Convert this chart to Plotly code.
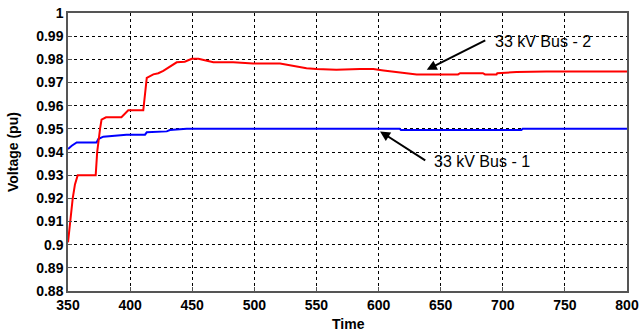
import plotly.graph_objects as go

# Bus-2 (red)
t_bus2 = [350, 351.6, 353.8, 355.6, 357.8, 372.3, 373.5, 375.8, 377, 380.6, 393, 398.5, 410.6, 412, 413.4,
          418.7, 422.7, 426.7, 432, 437.5, 444, 449.6, 455, 461.6, 467, 483, 499, 520.7, 526, 534, 542, 550,
          566, 585, 595.8, 604, 617, 630.7, 664, 665.6, 684, 685.7, 695, 695.6, 711, 735, 800]
v_bus2 = [0.901, 0.910, 0.920, 0.926, 0.930, 0.930, 0.940, 0.950, 0.954, 0.955, 0.955, 0.958, 0.958, 0.965, 0.972,
          0.9735, 0.974, 0.975, 0.977, 0.9787, 0.979, 0.9802, 0.9802, 0.9795, 0.9787, 0.9787, 0.9782, 0.9782, 0.9777,
          0.9767, 0.9762, 0.9758, 0.9755, 0.9758, 0.9758, 0.9752, 0.9745, 0.9735, 0.9735, 0.974, 0.974, 0.9735,
          0.9735, 0.974, 0.9745, 0.9748, 0.9748]

# Bus-1 (blue)
t_bus1 = [350, 353, 357, 373, 374.4, 378.4, 397, 412, 413.4, 429.5, 432, 445.6, 617, 618, 715, 716, 800]
v_bus1 = [0.9413, 0.9427, 0.9441, 0.9441, 0.9456, 0.9466, 0.9475, 0.9475, 0.9485, 0.9489, 0.9495, 0.950,
          0.950, 0.9495, 0.9495, 0.950, 0.950]

x_ticks = [350, 400, 450, 500, 550, 600, 650, 700, 750, 800]
y_ticks = [0.88, 0.89, 0.9, 0.91, 0.92, 0.93, 0.94, 0.95, 0.96, 0.97, 0.98, 0.99, 1]
y_tick_text = ["0.88", "0.89", "0.9", "0.91", "0.92", "0.93", "0.94", "0.95", "0.96", "0.97", "0.98", "0.99", "1"]

FONT = "Liberation Sans, Arial, sans-serif"
TITLE_FONT = dict(family=FONT, size=14, weight="bold", color="black")

fig = go.Figure()
fig.add_trace(go.Scatter(x=t_bus1, y=v_bus1, mode="lines", line=dict(color="#0000ff", width=2), showlegend=False))
fig.add_trace(go.Scatter(x=t_bus2, y=v_bus2, mode="lines", line=dict(color="#ff0000", width=2), showlegend=False))

axis_common = dict(
    showgrid=True, gridcolor="black", gridwidth=1, griddash="3px,3px",
    showline=True, linecolor="#555555", linewidth=1.5, mirror=True,
    ticks="inside", ticklen=4, tickcolor="#555555",
    tickfont=dict(family=FONT, size=14, weight="bold", color="black"),
    zeroline=False, automargin=False,
)

fig.update_xaxes(range=[350, 800], tickvals=x_ticks, **axis_common)
fig.update_yaxes(range=[0.88, 1], tickvals=y_ticks, ticktext=y_tick_text, **axis_common)

# axis titles
fig.add_annotation(x=-0.0984, y=0.5, xref="paper", yref="paper", text="Voltage (pu)", textangle=-90,
                   showarrow=False, xanchor="center", yanchor="middle", font=TITLE_FONT)
fig.add_annotation(x=0.501, y=-0.119, xref="paper", yref="paper", text="Time",
                   showarrow=False, xanchor="center", yanchor="middle", font=TITLE_FONT)

# arrows
fig.add_annotation(x=638.8, y=0.9755, ax=687.1, ay=0.9885, axref="x", ayref="y", xref="x", yref="y",
                   text="", showarrow=True, arrowhead=2, arrowsize=1, arrowwidth=2, arrowcolor="black")
fig.add_annotation(x=601.2, y=0.9489, ax=638.8, ay=0.9360, axref="x", ayref="y", xref="x", yref="y",
                   text="", showarrow=True, arrowhead=2, arrowsize=1, arrowwidth=2, arrowcolor="black")
# labels
fig.add_annotation(x=691.9, y=0.9877, xref="x", yref="y", text="33 kV Bus - 2", showarrow=False,
                   xanchor="left", yanchor="middle", font=dict(family=FONT, size=16, color="black"))
fig.add_annotation(x=642.8, y=0.9360, xref="x", yref="y", text="33 kV Bus - 1", showarrow=False,
                   xanchor="left", yanchor="middle", font=dict(family=FONT, size=16, color="black"))

fig.update_layout(
    width=639, height=335,
    margin=dict(l=68, r=12, t=13, b=44),
    paper_bgcolor="white", plot_bgcolor="white",
)

fig.write_html("out.html")
